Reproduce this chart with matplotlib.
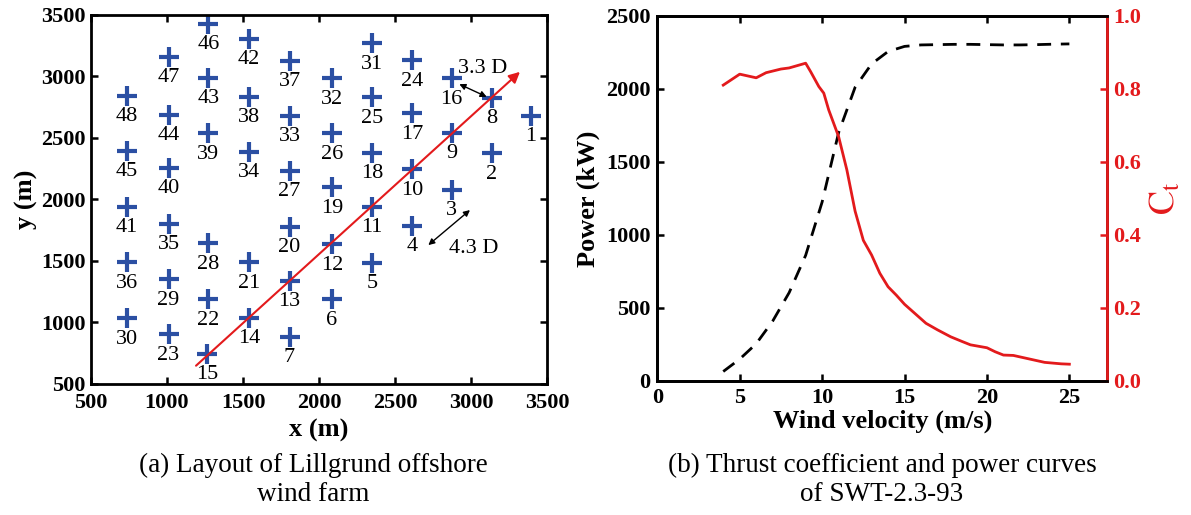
import matplotlib
matplotlib.use("Agg")
import matplotlib.pyplot as plt  # noqa: E402

plt.rcParams["font.family"] = ["Liberation Serif", "DejaVu Serif"]
plt.rcParams["mathtext.fontset"] = "stix"

# Lillgrund layout (m), turbines 1..48
turbine_id = list(range(1, 49))
turbine_x = [3395, 3138, 2873, 2614, 2349, 2084, 1806, 3138, 2873, 2614,
             2349, 2084, 1806, 1538, 1265, 2873, 2614, 2349, 2084, 1806,
             1538, 1272, 1010, 2614, 2349, 2084, 1806, 1272, 1010, 738,
             2349, 2084, 1806, 1538, 1010, 738, 1806, 1538, 1272, 1010,
             738, 1538, 1272, 1010, 738, 1272, 1010, 738]
turbine_y = [2675, 2372, 2073, 1780, 1482, 1185, 881, 2824, 2539, 2241,
             1937, 1632, 1333, 1035, 740, 2981, 2697, 2377, 2095, 1775,
             1485, 1185, 900, 3130, 2827, 2534, 2230, 1640, 1347, 1030,
             3266, 2981, 2675, 2385, 1797, 1485, 3122, 2832, 2534, 2254,
             1937, 3301, 2986, 2683, 2393, 3428, 3157, 2840]
wind_dir_start = (1191, 645)
wind_dir_end = (3322, 3035)
gap_33 = [(2923, 2935), (3103, 2832)]
gap_43 = [(2719, 1626), (2993, 1911)]

# SWT-2.3-93 power curve
power_v = [4, 5, 6, 7, 8, 9, 10, 11, 12, 13, 14, 15, 16, 17, 18, 19, 20, 21, 22, 23, 24, 25]
power_kw = [65, 150, 255, 410, 605, 860, 1225, 1700, 2010, 2170, 2255, 2290, 2300, 2302,
            2304, 2304, 2302, 2300, 2300, 2302, 2305, 2307]

# thrust coefficient curve
ct_v = [4, 5, 6, 6.6, 7.5, 8, 9, 9.3, 9.8, 10.1, 10.4, 11, 11.5, 12, 12.5, 13, 13.5, 14,
        14.5, 15, 15.5, 16.3, 17, 17.8, 18.5, 19, 20, 20.5, 21, 21.6, 22, 22.5, 23, 23.5,
        24, 24.5, 25]
ct = [0.81, 0.84, 0.83, 0.844, 0.854, 0.857, 0.87, 0.847, 0.806, 0.788, 0.742, 0.669,
      0.578, 0.465, 0.385, 0.345, 0.295, 0.258, 0.235, 0.21, 0.19, 0.158, 0.14, 0.121,
      0.108, 0.099, 0.091, 0.08, 0.071, 0.070, 0.066, 0.061, 0.056, 0.051, 0.049, 0.047,
      0.046]

TICK_FS = 16
LAB_FS = 19
CAP_FS = 19.5
RED = "#e31a1c"

fig = plt.figure(figsize=(11.91, 5.15), dpi=100)

# ---- (a) layout
ax = fig.add_axes([0.0764, 0.2553, 0.3829, 0.7162])
ax.plot(turbine_x, turbine_y, "+", color="#2b4fa3", ms=14, mew=3, ls="none")
for i, x, y in zip(turbine_id, turbine_x, turbine_y):
    ax.annotate(str(i), (x, y), xytext=(0, -15), textcoords="offset points",
                ha="center", va="center", fontsize=16)
ax.annotate("", xy=wind_dir_end, xytext=wind_dir_start,
            arrowprops=dict(arrowstyle="-|>", color=RED, lw=1.5, mutation_scale=16,
                            shrinkA=0, shrinkB=0))
for a, b in (gap_33, gap_43):
    ax.annotate("", xy=b, xytext=a,
                arrowprops=dict(arrowstyle="<|-|>", color="k", lw=1, mutation_scale=9,
                                shrinkA=0, shrinkB=0))
ax.text(2914, 3065, "3.3 D", fontsize=16, ha="left", va="center")
ax.text(2857, 1599, "4.3 D", fontsize=16, ha="left", va="center")
ax.set_xlim(500, 3500)
ax.set_ylim(500, 3500)
ax.set_xticks(range(500, 3501, 500))
ax.set_yticks(range(500, 3501, 500))
ax.set_xlabel("x (m)", fontsize=LAB_FS, fontweight="bold", labelpad=4)
ax.set_ylabel("y (m)", fontsize=LAB_FS, fontweight="bold", labelpad=2)
ax.tick_params(direction="in", top=True, right=True, length=5, width=1.8,
               labelsize=TICK_FS, pad=4)
ax.tick_params(axis="x", pad=7)
for t in ax.get_xticklabels() + ax.get_yticklabels():
    t.set_fontweight("bold")
for s in ax.spines.values():
    s.set_linewidth(2)

# ---- (b) power and Ct
bx = fig.add_axes([0.5519, 0.2602, 0.3778, 0.7093])
bx.plot(power_v, power_kw, color="k", lw=2, ls=(0, (5, 3.5)))
bx.set_xlim(0, 27.3)
bx.set_ylim(0, 2500)
bx.set_xticks([0, 5, 10, 15, 20, 25])
bx.set_yticks(range(0, 2501, 500))
bx.set_xlabel("Wind velocity (m/s)", fontsize=LAB_FS, fontweight="bold", labelpad=1)
bx.set_ylabel("Power (kW)", fontsize=LAB_FS, fontweight="bold", labelpad=4)
bx.tick_params(direction="in", top=True, length=5, width=1.8, labelsize=TICK_FS, pad=5)
bx.tick_params(axis="y", right=False)
for t in bx.get_xticklabels() + bx.get_yticklabels():
    t.set_fontweight("bold")
for s in bx.spines.values():
    s.set_linewidth(2)

cx = bx.twinx()
cx.plot(ct_v, ct, color=RED, lw=2)
cx.set_ylim(0, 1.0)
cx.set_yticks([0.0, 0.2, 0.4, 0.6, 0.8, 1.0])
cx.set_yticklabels([f"{v:.1f}" for v in cx.get_yticks()], color=RED, fontweight="bold")
cx.set_ylabel(r"$\mathrm{C_t}$", fontsize=26, color=RED, labelpad=6)
cx.tick_params(axis="y", direction="in", length=5, width=1.8, colors=RED,
               labelsize=TICK_FS, pad=4)
for s in cx.spines.values():
    s.set_linewidth(2)
cx.spines["right"].set_color(RED)

# captions
fig.text(0.263, 0.097, "(a) Layout of Lillgrund offshore", ha="center", va="center", fontsize=CAP_FS)
fig.text(0.263, 0.040, "wind farm", ha="center", va="center", fontsize=CAP_FS)
fig.text(0.7406, 0.097, "(b) Thrust coefficient and power curves", ha="center", va="center",
         fontsize=CAP_FS)
fig.text(0.7406, 0.040, "of SWT-2.3-93", ha="center", va="center", fontsize=CAP_FS)

fig.savefig("out.png", dpi=100)
